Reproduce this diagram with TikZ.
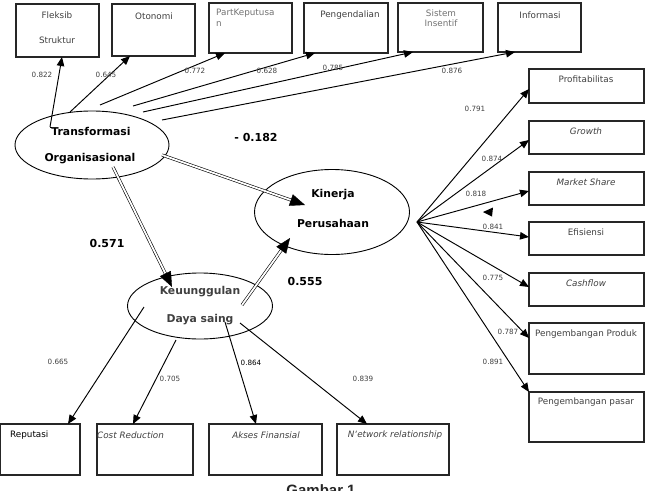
\documentclass[tikz,border=0pt]{standalone}
\usepackage{fontspec}
\setmainfont{DejaVu Sans}
\newfontfamily\capfont{Liberation Sans}
\usetikzlibrary{shapes.geometric,arrows.meta,calc}
\begin{document}
\begin{tikzpicture}[x=1pt,y=-1pt,
  box/.style={draw=black!85, line width=1.1pt, anchor=north west, inner sep=0pt, outer sep=0pt},
  btxt/.style={font=\fontsize{8.8}{10.5}\selectfont, text=black!75, inner sep=0pt},
  itxt/.style={btxt, font=\fontsize{8.8}{10.5}\selectfont\itshape},
  num/.style={font=\fontsize{7.2}{8}\selectfont, text=black!75, inner sep=0pt},
  bignum/.style={font=\fontsize{11}{12}\selectfont\bfseries, inner sep=0pt},
  ell/.style={ellipse, draw=black, line width=0.9pt, inner sep=0pt},
  etxt/.style={font=\fontsize{10.8}{12}\selectfont\bfseries, inner sep=0pt},
  arr/.style={draw=black, line width=0.95pt, -{Triangle[length=9pt,width=7.5pt]}},
  dbl/.style={draw=black, line width=0.6pt, double, double distance=1.8pt},
  dtip/.style={draw=black, line width=0.4pt, -{Triangle[length=15pt,width=12pt]}}
]
\useasboundingbox (0,0) rectangle (647,490);
\fill[white] (0,0) rectangle (647,490);

% top boxes
\node[box, minimum width=83pt, minimum height=53pt] (fs) at (16,4) {};
\node[box, minimum width=83pt, minimum height=52pt] (ot) at (112,4) {};
\node[box, minimum width=83pt, minimum height=50pt] (pk) at (209,3) {};
\node[box, minimum width=84pt, minimum height=50pt] (pg) at (304,3) {};
\node[box, minimum width=85pt, minimum height=49pt] (si) at (398,3) {};
\node[box, minimum width=83pt, minimum height=49pt] (inf) at (498,3) {};
\node[btxt] (fsA) at (57,15) {Fleksib};
\node[btxt] (fsB) at (57,40) {Struktur};
\node[btxt] (otA) at (154,16) {Otonomi};
\node[btxt, anchor=west, align=left, text=black!55] (pkA) at (216,18) {PartKeputusa\\n};
\node[btxt] (pgA) at (350,15) {Pengendalian};
\node[btxt, align=center, text=black!55] (siA) at (441,18) {Sistem\\Insentif};
\node[btxt] (infA) at (540,15) {Informasi};

% right boxes
\node[box, minimum width=115pt, minimum height=34pt] (pr) at (529,69) {};
\node[box, minimum width=115pt, minimum height=33pt] (gr) at (529,121) {};
\node[box, minimum width=115pt, minimum height=33pt] (ms) at (529,172) {};
\node[box, minimum width=115pt, minimum height=33pt] (ef) at (529,222) {};
\node[box, minimum width=115pt, minimum height=33pt] (cf) at (529,273) {};
\node[box, minimum width=115pt, minimum height=51pt] (pp) at (529,323) {};
\node[box, minimum width=115pt, minimum height=50pt] (ps) at (529,392) {};
\node[btxt] (prA) at (586,79) {Profitabilitas};
\node[itxt] (grA) at (586,131) {Growth};
\node[itxt] (msA) at (586,182) {Market Share};
\node[btxt] (efA) at (586,232) {Efisiensi};
\node[itxt] (cfA) at (586,283) {Cashflow};
\node[btxt] (ppA) at (586,334) {Pengembangan Produk};
\node[btxt] (psA) at (586,402) {Pengembangan pasar};

% bottom boxes
\node[box, minimum width=80pt, minimum height=51pt] (rp) at (0,424) {};
\node[box, minimum width=96pt, minimum height=51pt] (cr) at (97,424) {};
\node[box, minimum width=113pt, minimum height=51pt] (ak) at (209,424) {};
\node[box, minimum width=112pt, minimum height=51pt] (nw) at (337,424) {};
\node[btxt, anchor=west, text=black] (rpA) at (10,435) {Reputasi};
\node[itxt, anchor=west] (crA) at (97,435) {Cost Reduction};
\node[itxt] (akA) at (266,435) {Akses Finansial};
\node[itxt] (nwA) at (395,435) {N`etwork relationship};

% ellipses
\node[ell, minimum width=154pt, minimum height=68pt] (to) at (92,145) {};
\node[ell, minimum width=155pt, minimum height=85pt] (kp) at (332,212) {};
\node[ell, minimum width=145pt, minimum height=66pt] (kd) at (200,306) {};
\node[etxt] (toA) at (91,131) {Transformasi};
\node[etxt] (toB) at (90,159) {Organisasional};
\node[etxt] (kpA) at (333,195) {Kinerja};
\node[etxt] (kpB) at (333,223) {Perusahaan};
\node[etxt, text=black!75] (kdA) at (200,292) {Keuunggulan};
\node[etxt, text=black!75] (kdB) at (200,320) {Daya saing};

% arrows from Transformasi
\coordinate (s1) at (50,127);
\coordinate (s2) at (70,112);
\coordinate (s3) at (100,105);
\coordinate (s4) at (133,106);
\coordinate (s5) at (143,112);
\coordinate (s6) at (162,120);
\draw[line width=0.95pt] (52,127) -- (s1);
\draw[arr] (s1) -- ([xshift=4.5pt]fs.south);
\draw[arr] (s2) -- ([xshift=-23.5pt]ot.south);
\draw[arr] (s3) -- ([xshift=-25.5pt]pk.south);
\draw[arr] (s4) -- ([xshift=-31pt]pg.south);
\draw[arr] (s5) -- ([xshift=-27.5pt]si.south);
\draw[arr] (s6) -- ([xshift=-24.5pt]inf.south);
\node[num] (n1) at (42,75) {0.822};
\node[num] (n2) at (106,75) {0.645};
\node[num] (n3) at (195,71) {0.772};
\node[num] (n4) at (267,71) {0.628};
\node[num] (n5) at (333,68) {0.785};
\node[num] (n6) at (452,71) {0.876};

% fan to right boxes
\coordinate (fan) at (417,222);
\draw[arr] (fan) -- ([yshift=-3pt]pr.west);
\draw[arr] (fan) -- ([yshift=-2.5pt]gr.west);
\draw[arr] (fan) -- ([yshift=-2.5pt]ms.west);
\draw[arr] (fan) -- ([yshift=1.5pt]ef.west);
\draw[arr] (fan) -- ([yshift=2.5pt]cf.west);
\draw[arr] (fan) -- ([yshift=10.5pt]pp.west);
\draw[arr] (fan) -- (ps.north west);
\node[num] (r1) at (475,109) {0.791};
\node[num] (r2) at (492,159) {0.874};
\node[num] (r3) at (476,194) {0.818};
\node[num] (r4) at (493,227) {0.841};
\node[num] (r5) at (493,278) {0.775};
\node[num] (r6) at (508,332) {0.787};
\node[num] (r7) at (493,362) {0.891};
\fill[black] (483,212) -- (493,207.5) -- (492,216.5) -- cycle;

% arrows from Keunggulan to bottom boxes
\coordinate (b1) at (144,307);
\coordinate (b2) at (176,340);
\coordinate (b3) at (225,322);
\coordinate (b4) at (240,323);
\draw[arr] (b1) -- ([xshift=-12pt]rp.north east);
\draw[arr] (b2) -- ([xshift=-12pt]cr.north);
\draw[arr] (b3) -- ([xshift=-9.5pt]ak.north);
\draw[arr] (b4) -- ([xshift=-26pt]nw.north);
\node[num] (k1) at (58,362) {0.665};
\node[num] (k2) at (170,379) {0.705};
\node[num, text=black] (k3) at (251,363) {0.864};
\node[num] (k4) at (363,379) {0.839};

% structural double arrows
\coordinate (d1s) at (162,155);
\coordinate (d1t) at (305,205);
\coordinate (d2s) at (113,167);
\coordinate (d2t) at (172,287);
\coordinate (d3s) at (242,305);
\coordinate (d3t) at (290,238);
\draw[dbl] (d1s) -- ($(d1t)!14pt!(d1s)$);
\draw[dtip] ($(d1t)!14pt!(d1s)$) -- (d1t);
\draw[dbl] (d2s) -- ($(d2t)!14pt!(d2s)$);
\draw[dtip] ($(d2t)!14pt!(d2s)$) -- (d2t);
\draw[dbl] (d3s) -- ($(d3t)!14pt!(d3s)$);
\draw[dtip] ($(d3t)!14pt!(d3s)$) -- (d3t);
\node[bignum] (p1) at (256,137) {- 0.182};
\node[bignum] (p2) at (107,243) {0.571};
\node[bignum] (p3) at (305,281) {0.555};

% caption (cut off by the page edge, as in the reference)
\node[font=\capfont\fontsize{15}{16}\selectfont\bfseries, text=black!85, anchor=base, inner sep=0pt] (cap) at (321,495) {Gambar 1};
\end{tikzpicture}
\end{document}
